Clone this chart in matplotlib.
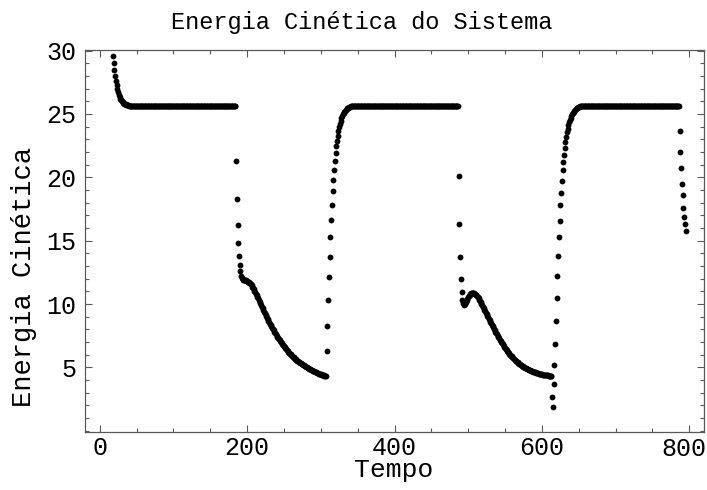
#!/usr/bin/env python3
"""Energia cinética do sistema vs tempo (Mathematica-style dot plot)."""
import matplotlib
matplotlib.use("Agg")
import matplotlib.pyplot as plt
from matplotlib.ticker import MultipleLocator, FuncFormatter
import numpy as np

DOT_COLOR = "black"
FONT = ["Liberation Mono", "DejaVu Sans Mono"]

T_START = 18          # first sample time
PLATEAU = 25.65       # saturated kinetic energy

# energy, segment by segment (one sample per time unit)
decay_a = [29.6, 29.0, 28.5, 28.0, 27.6, 27.25, 26.95, 26.7, 26.5, 26.35,
           26.2, 26.1, 26.0, 25.93, 25.87, 25.82, 25.78, 25.75, 25.72, 25.7,
           25.68, 25.67, 25.66]
flat_a_len = 144
drop_1 = [21.3, 18.3, 16.2, 14.8, 13.8, 13.1, 12.6, 12.25, 12.05, 11.95,
          11.9, 11.9, 11.89, 11.86, 11.83]
curve_1 = [11.80, 11.77, 11.73, 11.68, 11.62, 11.55, 11.47, 11.38, 11.28, 11.17,
           11.06, 10.94, 10.82, 10.70, 10.57, 10.44, 10.31, 10.18, 10.05, 9.92,
           9.79, 9.66, 9.53, 9.40, 9.27, 9.15, 9.03, 8.91, 8.79, 8.67,
           8.56, 8.45, 8.34, 8.23, 8.12, 8.01, 7.91, 7.81, 7.71, 7.61,
           7.51, 7.42, 7.33, 7.24, 7.15, 7.06, 6.97, 6.89, 6.81, 6.73,
           6.65, 6.57, 6.50, 6.43, 6.36, 6.29, 6.22, 6.15, 6.09, 6.03,
           5.97, 5.91, 5.85, 5.79, 5.74, 5.69, 5.64, 5.59, 5.54, 5.49,
           5.45, 5.41, 5.37, 5.33, 5.29, 5.25, 5.21, 5.17, 5.13, 5.09,
           5.05, 5.01, 4.97, 4.93, 4.90, 4.87, 4.84, 4.81, 4.78, 4.75,
           4.72, 4.69, 4.66, 4.63, 4.60, 4.57, 4.54, 4.51, 4.48, 4.46,
           4.44, 4.42, 4.40, 4.38, 4.36, 4.34, 4.32, 4.30]
rise_1 = [6.3, 8.3, 10.3, 12.1, 13.7, 15.25, 16.6, 17.8, 18.9, 19.8,
          20.6, 21.3, 21.9, 22.45, 22.9, 23.3, 23.65, 23.95, 24.2, 24.45,
          24.65, 24.82, 24.96, 25.08, 25.18, 25.27, 25.34, 25.4, 25.45, 25.49,
          25.52, 25.55, 25.57, 25.59, 25.61, 25.62, 25.63, 25.64]
flat_b_len = 141
drop_2 = [20.1, 16.3, 13.7, 12.0, 10.95, 10.3,
          10.05, 9.95, 9.97, 10.05, 10.17, 10.3, 10.43,
          10.55, 10.65, 10.73, 10.79, 10.84, 10.87, 10.88, 10.87, 10.84, 10.80,
          10.74, 10.68, 10.61, 10.53, 10.44, 10.35, 10.25, 10.14, 10.03, 9.91,
          9.79, 9.67, 9.55, 9.43, 9.31, 9.19, 9.07, 8.95, 8.83, 8.71,
          8.59, 8.48, 8.37, 8.26, 8.15, 8.04, 7.93, 7.82, 7.71, 7.60,
          7.49, 7.39, 7.29, 7.19, 7.09, 6.99, 6.90, 6.81, 6.72, 6.63,
          6.54, 6.46, 6.38, 6.30, 6.22, 6.14, 6.07, 6.00, 5.93, 5.86,
          5.79, 5.73, 5.67, 5.61, 5.55, 5.50, 5.45, 5.40, 5.35, 5.30,
          5.25, 5.21, 5.17, 5.13, 5.09, 5.05, 5.01, 4.98, 4.95, 4.92,
          4.89, 4.86, 4.83, 4.80, 4.78, 4.75, 4.72, 4.69, 4.67, 4.65,
          4.63, 4.61, 4.59, 4.57, 4.55, 4.53, 4.51, 4.49, 4.47, 4.45,
          4.44, 4.43, 4.42, 4.41, 4.40, 4.39, 4.38, 4.37, 4.36, 4.35,
          4.34, 4.33, 4.32, 4.31]
rise_2 = [2.65, 1.86, 3.66, 5.16, 6.82, 8.66, 10.45, 12.2, 13.8, 15.25,
          16.57, 17.8, 18.8, 19.7, 20.57, 21.2, 21.8, 22.35, 22.8, 23.2,
          23.55, 23.85, 24.12, 24.35, 24.55, 24.72, 24.87, 25.0, 25.1, 25.19,
          25.27, 25.34, 25.4, 25.45, 25.49, 25.52, 25.55, 25.57, 25.59, 25.61,
          25.62, 25.63, 25.64]
flat_c_len = 130
drop_3 = [23.68, 22.0, 20.7, 19.5, 18.6, 17.6, 16.9, 16.3, 15.8]

X_TICKS = [0, 200, 400, 600, 800]
Y_TICKS = [5, 10, 15, 20, 25, 30]


def main():
    energia = np.array(decay_a + [PLATEAU] * flat_a_len + drop_1 + curve_1
                       + rise_1 + [PLATEAU] * flat_b_len + drop_2 + rise_2
                       + [PLATEAU] * flat_c_len + drop_3)
    tempo = np.arange(T_START, T_START + len(energia))

    plt.rcParams["font.family"] = FONT
    fig = plt.figure(figsize=(7.07, 4.90), dpi=100)
    ax = fig.add_axes([0.1202, 0.1184, 0.8756, 0.7796])

    ax.plot(tempo, energia, "o", ms=4.2, color=DOT_COLOR, mec="none")

    ax.set_xlim(-20, 820)
    ax.set_ylim(-0.1, 30.05)
    ax.set_xticks(X_TICKS)
    ax.xaxis.set_minor_locator(MultipleLocator(50))
    ax.set_yticks(Y_TICKS)
    ax.yaxis.set_minor_locator(MultipleLocator(1))
    # the last x label would run past the figure edge: draw it separately
    ax.xaxis.set_major_formatter(FuncFormatter(
        lambda v, _: "" if v == X_TICKS[-1] else f"{v:g}"))
    ax.tick_params(which="both", direction="in", top=True, right=True,
                   color="0.35", width=0.8)
    ax.tick_params(which="major", length=5, labelsize=18)
    ax.tick_params(axis="x", which="major", pad=3)
    ax.tick_params(axis="y", which="major", pad=6)
    ax.tick_params(which="minor", length=3)
    for s in ax.spines.values():
        s.set_color("0.35")
        s.set_linewidth(0.9)

    ax.annotate(f"{X_TICKS[-1]}", xy=(X_TICKS[-1], 0),
                xycoords=("data", "axes fraction"),
                xytext=(-4, -3 - 0.9), textcoords="offset points",
                ha="center", va="top", fontsize=18)

    ax.set_xlabel("Tempo", fontsize=19)
    ax.xaxis.set_label_coords(0.498, -0.068)
    ax.set_ylabel("Energia Cinética", fontsize=19.5)
    ax.yaxis.set_label_coords(-0.078, 0.405)
    fig.text(0.512, 0.955, "Energia Cinética do Sistema", fontsize=17,
             ha="center", va="center")

    fig.savefig("out.png", dpi=100)


if __name__ == "__main__":
    main()
